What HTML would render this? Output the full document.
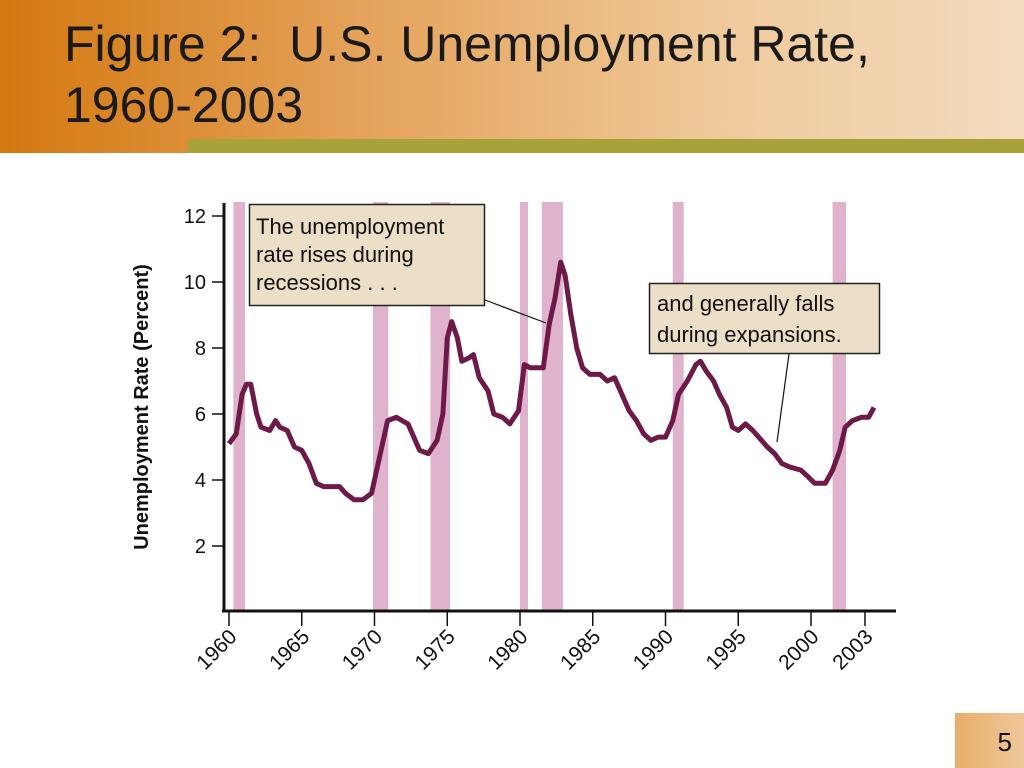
<!DOCTYPE html>
<html><head><meta charset="utf-8"><style>
body{margin:0;width:1024px;height:768px;overflow:hidden;background:#fff;font-family:"Liberation Sans",sans-serif;position:relative}
#title-bar{position:absolute;left:0;top:0;width:1024px;height:153px;background:linear-gradient(90deg,#d4780f 0%,#e4a25a 35%,#efc99a 70%,#f3dcbf 100%)}
#olive{position:absolute;left:188px;top:139px;width:836px;height:14px;background:#a8a23a}
#title{position:absolute;left:64px;top:14px;font-size:50px;line-height:61px;color:#1a1a1a}
#num{position:absolute;left:955px;top:713px;width:69px;height:55px;background:linear-gradient(90deg,#e8ae6a,#efc79a);font-size:26px;color:#111;text-align:right;box-sizing:border-box;padding:14px 12px 0 0}
</style></head><body>
<div id="title-bar"></div>
<div id="olive"></div>
<div id="title">Figure 2:&nbsp; U.S. Unemployment Rate,<br>1960-2003</div>
<div id="num">5</div>
<svg id="chart" width="1024" height="768" style="position:absolute;left:0;top:0"></svg>
<script>
const recessions=[[1960.3,1961.1],[1969.9,1970.95],[1973.85,1975.2],[1980.0,1980.55],[1981.5,1982.95],[1990.5,1991.25],[2001.2,2001.95]];
const years=[1960.0,1960.5,1960.9,1961.2,1961.5,1961.9,1962.2,1962.8,1963.2,1963.5,1964,1964.5,1965,1965.5,1966,1966.5,1967,1967.6,1968,1968.6,1969.2,1969.8,1970.4,1970.9,1971.5,1972.3,1972.8,1973.1,1973.7,1974.3,1974.7,1975.0,1975.3,1975.7,1976.0,1976.5,1976.8,1977.2,1977.8,1978.2,1978.8,1979.3,1979.9,1980.3,1980.7,1981.3,1981.6,1982.0,1982.4,1982.8,1983.1,1983.5,1983.9,1984.3,1984.8,1985.5,1986,1986.5,1987,1987.5,1988,1988.5,1989,1989.5,1990.0,1990.5,1990.9,1991.5,1992.1,1992.4,1992.8,1993.3,1993.7,1994.2,1994.6,1995,1995.5,1996,1996.6,1997,1997.5,1998,1998.5,1999.3,1999.8,2000.2,2000.8,2001.2,2001.6,2001.9,2002.3,2002.8,2003.2,2003.5];
const rates=[5.1,5.4,6.6,6.9,6.9,6.0,5.6,5.5,5.8,5.6,5.5,5.0,4.9,4.5,3.9,3.8,3.8,3.8,3.6,3.4,3.4,3.6,4.8,5.8,5.9,5.7,5.2,4.9,4.8,5.2,6.0,8.3,8.8,8.3,7.6,7.7,7.8,7.1,6.7,6.0,5.9,5.7,6.1,7.5,7.4,7.4,7.4,8.7,9.5,10.6,10.2,9.0,8.0,7.4,7.2,7.2,7.0,7.1,6.6,6.1,5.8,5.4,5.2,5.3,5.3,5.8,6.6,7.0,7.5,7.6,7.3,7.0,6.6,6.2,5.6,5.5,5.7,5.5,5.2,5.0,4.8,4.5,4.4,4.3,4.1,3.9,3.9,4.3,4.9,5.6,5.8,5.9,5.9,6.2];
const yTicks=[2,4,6,8,10,12];
const xTicks=[1960,1965,1970,1975,1980,1985,1990,1995,2000,2003];
const NS="http://www.w3.org/2000/svg";
const svg=document.getElementById('chart');
function X(yr){return yr<=2000?229+(yr-1960)*14.55:811+(yr-2000)*18;}
function Y(v){return 612-33*v;}
function el(t,a,p){const e=document.createElementNS(NS,t);for(const k in a)e.setAttribute(k,a[k]);(p||svg).appendChild(e);return e;}
recessions.forEach(r=>{const e=el('rect',{x:X(r[0]),y:202,width:X(r[1])-X(r[0]),height:409,fill:'#dfb3cb'});

});
let a=el('line',{x1:224,y1:203,x2:224,y2:611,stroke:'#111','stroke-width':3});

a=el('line',{x1:222,y1:611,x2:896,y2:611,stroke:'#111','stroke-width':3});

yTicks.forEach(v=>{el('line',{x1:212,y1:Y(v),x2:224,y2:Y(v),stroke:'#111','stroke-width':1.5});
const t=el('text',{x:206,y:Y(v)+7,'text-anchor':'end','font-size':20,fill:'#111'});t.textContent=v;

});
xTicks.forEach(v=>{el('line',{x1:X(v),y1:611,x2:X(v),y2:626,stroke:'#111','stroke-width':1.5});
const t=el('text',{x:X(v)+9,y:638,'text-anchor':'end','font-size':21,fill:'#111',transform:`rotate(-45 ${X(v)+9} 638)`});t.textContent=v;

});
const yt=el('text',{x:148,y:407,'text-anchor':'middle','font-size':20,'font-weight':'bold',fill:'#111',transform:'rotate(-90 148 407)'});yt.textContent='Unemployment Rate (Percent)';

const pl=el('polyline',{points:years.map((y,i)=>X(y)+','+Y(rates[i])).join(' '),fill:'none',stroke:'#6e1a48','stroke-width':5,'stroke-linejoin':'round'});

// callouts
el('line',{x1:485,y1:300,x2:546,y2:323,stroke:'#111','stroke-width':1.2});
el('line',{x1:789,y1:354,x2:777,y2:442,stroke:'#111','stroke-width':1.2});
const b1=el('rect',{x:249.5,y:204.5,width:235,height:101,fill:'#ecdfc8',stroke:'#222','stroke-width':1.5});

['The unemployment','rate rises during','recessions . . .'].forEach((s,i)=>{const t=el('text',{x:256,y:234+i*28,'font-size':22,fill:'#111'});t.textContent=s;});
const b2=el('rect',{x:649.5,y:283.5,width:230,height:70,fill:'#ecdfc8',stroke:'#222','stroke-width':1.5});

['and generally falls','during expansions.'].forEach((s,i)=>{const t=el('text',{x:657,y:311+i*31,'font-size':22,fill:'#111'});t.textContent=s;});
</script>
</body></html>
